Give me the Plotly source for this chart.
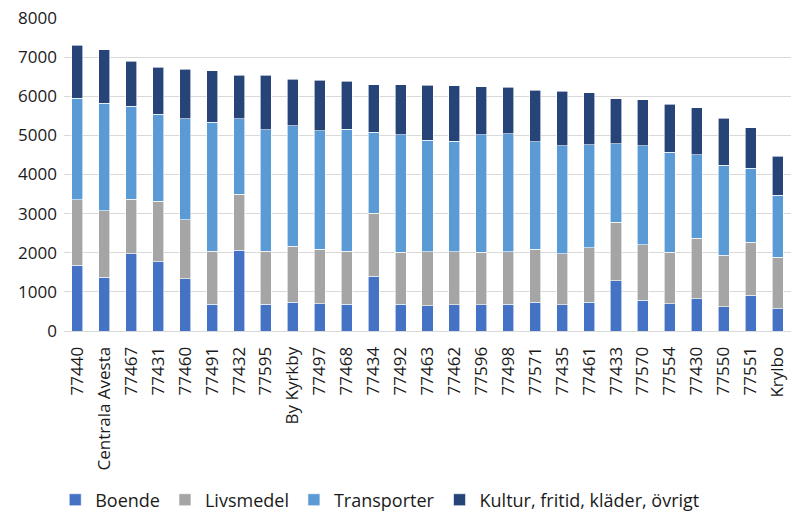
import plotly.graph_objects as go

categories = ["77440", "Centrala Avesta", "77467", "77431", "77460", "77491", "77432", "77595",
              "By Kyrkby", "77497", "77468", "77434", "77492", "77463", "77462", "77596", "77498",
              "77571", "77435", "77461", "77433", "77570", "77554", "77430", "77550", "77551", "Krylbo"]

boende = [1680, 1380, 1970, 1770, 1330, 680, 2070, 680, 730, 700, 690, 1400, 690, 650, 670, 670, 690,
          730, 665, 730, 1280, 790, 700, 825, 620, 910, 570]
livsmedel = [1680, 1690, 1400, 1550, 1515, 1355, 1430, 1355, 1440, 1395, 1345, 1605, 1320, 1370, 1350,
             1340, 1330, 1360, 1310, 1400, 1505, 1410, 1310, 1550, 1320, 1355, 1310]
transporter = [2590, 2750, 2380, 2220, 2585, 3295, 1920, 3115, 3070, 3025, 3125, 2080, 3000, 2850, 2835,
               3000, 3020, 2750, 2755, 2625, 1995, 2530, 2555, 2125, 2300, 1900, 1595]
kultur = [1350, 1370, 1140, 1200, 1260, 1320, 1120, 1390, 1190, 1285, 1220, 1205, 1280, 1410, 1415,
          1235, 1190, 1310, 1395, 1335, 1150, 1180, 1225, 1205, 1195, 1025, 990]

series = [
    ("Boende", boende, "#4472C4"),
    ("Livsmedel", livsmedel, "#A5A5A5"),
    ("Transporter", transporter, "#5B9BD5"),
    ("Kultur, fritid, kläder, övrigt", kultur, "#264478"),
]

fig = go.Figure()
for name, vals, color in series:
    fig.add_trace(go.Bar(
        x=categories, y=vals, name=name,
        marker=dict(color=color, line=dict(color="white", width=0.6)),
    ))

font = dict(family="Open Sans, Noto Sans, sans-serif", size=17, color="#1a1a1a")
legend_font = dict(family="Open Sans, Noto Sans, sans-serif", size=18, color="#1a1a1a")

fig.update_layout(
    barmode="stack",
    bargap=0.59,
    width=795, height=513,
    margin=dict(l=64, r=4, t=18, b=182, autoexpand=False),
    paper_bgcolor="white", plot_bgcolor="white",
    font=font,
    showlegend=True,
    legend=dict(orientation="h", x=0.435, xanchor="center", y=-0.54, yanchor="middle",
                font=legend_font, itemwidth=30, traceorder="normal", tracegroupgap=0),
    xaxis=dict(tickangle=-90, showgrid=False, showline=True, linecolor="#D9D9D9", linewidth=1,
               ticks="", tickfont=font, ticklabelstandoff=8, automargin=False),
    yaxis=dict(range=[0, 8000], dtick=1000, showgrid=True, gridcolor="#D9D9D9", gridwidth=1,
               zeroline=False, showline=False, ticks="", tickfont=font, ticklabelstandoff=6,
               automargin=False),
)

fig.write_html("out.html", config={"displayModeBar": False},
               post_script="document.body.style.margin='0';document.body.style.overflow='hidden';")
